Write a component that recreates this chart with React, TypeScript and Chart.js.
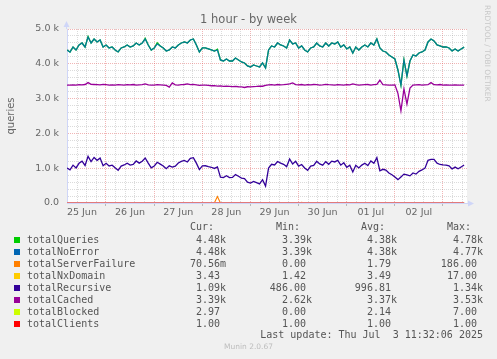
import React, { useEffect, useRef } from "react";
import { Chart, registerables } from "chart.js";
Chart.register(...registerables);

// x axis: days after 25 Jun 00:00, one sample every 1.5 h
const START_DAY = 0.19;
const STEP_DAY = 0.0625;
const X_MIN = 0.19;
const X_MAX = 8.5;
const dayLabels = ["25 Jun", "26 Jun", "27 Jun", "28 Jun", "29 Jun", "30 Jun", "01 Jul", "02 Jul"];
const yMajorValues = [0, 1000, 2000, 3000, 4000, 5000];
const yTickLabels = ["0.0", "1.0 k", "2.0 k", "3.0 k", "4.0 k", "5.0 k"];

const totalQueries = [
  4397, 4340, 4483, 4397, 4541, 4598, 4483, 4780, 4598, 4713,
  4627, 4685, 4483, 4541, 4455, 4483, 4397, 4340, 4455, 4483,
  4541, 4483, 4512, 4598, 4541, 4598, 4730, 4541, 4397, 4455,
  4600, 4512, 4455, 4368, 4397, 4483, 4455, 4541, 4598, 4627,
  4598, 4685, 4713, 4541, 4340, 4455, 4455, 4426, 4397, 4368,
  4420, 4110, 4081, 4139, 4081, 4081, 4167, 4110, 4052, 4024,
  3937, 3909, 3966, 3937, 3909, 4024, 3880, 4397, 4512, 4483,
  4598, 4541, 4512, 4455, 4685, 4570, 4598, 4455, 4512, 4397,
  4340, 4455, 4483, 4598, 4512, 4483, 4598, 4512, 4598, 4570,
  4627, 4483, 4541, 4426, 4483, 4311, 4483, 4397, 4483, 4541,
  4483, 4598, 4541, 4713, 4455, 4368, 4340, 4254, 4196, 4139,
  3822, 3390, 4110, 3650, 4080, 4254, 4225, 4311, 4340, 4397,
  4627, 4713, 4656, 4541, 4512, 4483, 4483, 4455, 4368, 4426,
  4368, 4426, 4480,
];
const totalNoError = [
  4397, 4340, 4483, 4397, 4541, 4598, 4483, 4770, 4598, 4713,
  4627, 4685, 4483, 4541, 4455, 4483, 4397, 4340, 4455, 4483,
  4541, 4483, 4512, 4598, 4541, 4598, 4713, 4541, 4397, 4455,
  4570, 4512, 4455, 4368, 4397, 4483, 4455, 4541, 4598, 4627,
  4598, 4685, 4713, 4541, 4340, 4455, 4455, 4426, 4397, 4368,
  4397, 4110, 4081, 4139, 4081, 4081, 4167, 4110, 4052, 4024,
  3937, 3909, 3966, 3937, 3909, 4024, 3880, 4397, 4512, 4483,
  4598, 4541, 4512, 4455, 4685, 4570, 4598, 4455, 4512, 4397,
  4340, 4455, 4483, 4598, 4512, 4483, 4598, 4512, 4598, 4570,
  4627, 4483, 4541, 4426, 4483, 4311, 4483, 4397, 4483, 4541,
  4483, 4598, 4541, 4713, 4455, 4368, 4340, 4254, 4196, 4139,
  3822, 3390, 4110, 3650, 4080, 4254, 4225, 4311, 4340, 4397,
  4627, 4713, 4656, 4541, 4512, 4483, 4483, 4455, 4368, 4426,
  4368, 4426, 4480,
];
const totalServerFailure = [
  0, 0, 1, 0, 0, 2, 0, 0, 0, 1,
  0, 0, 0, 3, 0, 0, 1, 0, 0, 0,
  2, 0, 0, 0, 1, 0, 0, 0, 4, 0,
  0, 1, 0, 0, 0, 2, 0, 0, 0, 1,
  0, 0, 3, 0, 0, 1, 0, 0, 0, 5,
  186, 0, 0, 2, 0, 0, 1, 0, 0, 0,
  1, 0, 0, 2, 0, 0, 0, 1, 0, 0,
  3, 0, 0, 1, 0, 0, 2, 0, 20, 0,
  0, 1, 0, 0, 2, 0, 0, 1, 0, 0,
  0, 3, 0, 0, 1, 0, 0, 0, 2, 0,
  1, 0, 0, 0, 2, 0, 1, 0, 0, 3,
  0, 2, 0, 1, 0, 0, 1, 0, 0, 2,
  0, 0, 1, 0, 0, 3, 0, 0, 1, 0,
  0, 0, 0.07,
];
const totalNxDomain = [
  3.6, 3.4, 3.8, 3.2, 3.5, 3.9, 3.3, 3.6, 3.4, 3.7,
  3.5, 3.2, 3.8, 3.6, 3.3, 3.4, 3.7, 3.5, 3.1, 3.6,
  3.4, 3.8, 3.5, 3.3, 3.6, 3.9, 3.4, 3.2, 3.5, 3.7,
  3.6, 3.3, 3.4, 3.8, 3.5, 3.6, 3.2, 3.4, 3.7, 3.5,
  3.3, 3.6, 3.8, 3.4, 3.1, 3.5, 3.6, 3.3, 3.4, 3.2,
  3.0, 2.8, 3.1, 2.9, 3.2, 2.7, 3.0, 2.9, 2.8, 3.1,
  2.7, 2.9, 3.0, 2.8, 2.6, 3.0, 2.9, 3.5, 3.7, 3.4,
  3.6, 3.8, 3.3, 3.5, 3.9, 3.6, 3.4, 3.7, 3.5, 3.3,
  3.2, 3.6, 3.4, 3.8, 3.5, 3.7, 3.6, 3.3, 3.9, 3.5,
  3.7, 3.4, 3.6, 3.3, 3.5, 3.1, 3.6, 3.4, 3.5, 3.8,
  3.4, 3.7, 3.5, 3.9, 17.0, 3.6, 3.3, 3.2, 3.0, 2.9,
  2.6, 2.4, 2.8, 2.5, 2.7, 3.0, 3.1, 3.3, 3.2, 3.4,
  3.7, 3.8, 3.6, 3.5, 3.4, 3.6, 3.5, 3.3, 3.4, 3.2,
  3.5, 3.4, 3.43,
];
const totalRecursive = [
  1007, 955, 1088, 1007, 1141, 1203, 1078, 1340, 1188, 1308,
  1227, 1290, 1073, 1141, 1065, 1088, 1012, 940, 1060, 1093,
  1141, 1088, 1107, 1208, 1146, 1198, 1293, 1146, 1012, 1065,
  1170, 1117, 1065, 988, 1067, 1033, 1060, 1151, 1198, 1222,
  1178, 1285, 1303, 1146, 960, 1065, 1070, 1046, 1027, 993,
  1037, 745, 731, 784, 731, 736, 817, 770, 717, 704,
  597, 574, 621, 587, 549, 669, 486, 1002, 1112, 1093,
  1193, 1146, 1112, 1045, 1265, 1120, 1198, 1060, 1107, 1007,
  940, 1060, 1078, 1198, 1122, 1088, 1188, 1112, 1203, 1180,
  1227, 1088, 1156, 1026, 1088, 891, 1083, 1007, 1088, 1141,
  1078, 1208, 1141, 1303, 925, 968, 945, 864, 811, 744,
  672, 750, 830, 810, 780, 864, 830, 911, 950, 1002,
  1227, 1253, 1256, 1146, 1107, 1093, 1088, 1070, 978, 1031,
  983, 1036, 1090,
];
const totalCached = [
  3390, 3385, 3395, 3390, 3400, 3395, 3405, 3460, 3410, 3405,
  3400, 3395, 3410, 3400, 3390, 3395, 3385, 3400, 3395, 3390,
  3400, 3395, 3405, 3390, 3395, 3400, 3420, 3395, 3385, 3390,
  3400, 3395, 3390, 3380, 3330, 3450, 3395, 3390, 3400, 3405,
  3420, 3400, 3410, 3395, 3380, 3390, 3385, 3380, 3370, 3375,
  3360, 3365, 3350, 3355, 3350, 3345, 3350, 3340, 3335, 3320,
  3340, 3335, 3345, 3350, 3360, 3355, 3380, 3395, 3400, 3390,
  3405, 3395, 3400, 3410, 3420, 3450, 3400, 3395, 3405, 3390,
  3400, 3395, 3405, 3400, 3390, 3395, 3410, 3400, 3395, 3390,
  3400, 3395, 3385, 3400, 3395, 3420, 3400, 3390, 3395, 3400,
  3405, 3390, 3400, 3410, 3530, 3400, 3395, 3390, 3385, 3395,
  3150, 2650, 3280, 2840, 3300, 3390, 3395, 3400, 3390, 3395,
  3400, 3460, 3400, 3395, 3405, 3390, 3395, 3385, 3390, 3395,
  3385, 3390, 3390,
];
const totalBlocked = [
  2.1, 2.3, 1.9, 2.4, 2.2, 2.0, 2.5, 2.3, 1.8, 2.2,
  2.4, 2.1, 2.0, 2.3, 2.6, 2.2, 1.9, 2.1, 2.4, 2.2,
  2.0, 2.3, 2.5, 2.1, 1.8, 2.2, 2.4, 2.0, 2.3, 2.1,
  2.2, 2.6, 2.0, 1.9, 2.3, 2.1, 2.4, 2.2, 2.0, 2.5,
  2.3, 2.1, 2.2, 1.9, 2.0, 2.4, 2.1, 2.3, 2.0, 1.8,
  1.7, 1.9, 1.6, 2.0, 1.8, 1.5, 1.7, 1.9, 1.6, 1.4,
  1.5, 1.3, 1.6, 1.4, 1.2, 1.5, 1.3, 2.2, 2.4, 2.1,
  2.3, 2.5, 2.0, 2.2, 7.0, 2.1, 2.3, 2.4, 2.0, 2.2,
  1.9, 2.1, 2.3, 2.5, 2.2, 2.0, 2.4, 2.1, 2.3, 2.2,
  2.5, 2.1, 2.0, 2.3, 2.2, 1.8, 2.1, 2.4, 2.2, 2.3,
  2.0, 2.4, 2.2, 2.6, 2.1, 2.0, 1.9, 2.2, 1.8, 1.7,
  1.5, 0.0, 1.6, 1.2, 1.8, 2.0, 1.9, 2.1, 2.2, 2.0,
  2.4, 2.5, 2.3, 2.1, 2.2, 2.4, 2.0, 2.3, 1.9, 2.1,
  2.2, 2.4, 2.97,
];
const totalClients = [
  1, 1, 1, 1, 1, 1, 1, 1, 1, 1,
  1, 1, 1, 1, 1, 1, 1, 1, 1, 1,
  1, 1, 1, 1, 1, 1, 1, 1, 1, 1,
  1, 1, 1, 1, 1, 1, 1, 1, 1, 1,
  1, 1, 1, 1, 1, 1, 1, 1, 1, 1,
  1, 1, 1, 1, 1, 1, 1, 1, 1, 1,
  1, 1, 1, 1, 1, 1, 1, 1, 1, 1,
  1, 1, 1, 1, 1, 1, 1, 1, 1, 1,
  1, 1, 1, 1, 1, 1, 1, 1, 1, 1,
  1, 1, 1, 1, 1, 1, 1, 1, 1, 1,
  1, 1, 1, 1, 1, 1, 1, 1, 1, 1,
  1, 1, 1, 1, 1, 1, 1, 1, 1, 1,
  1, 1, 1, 1, 1, 1, 1, 1, 1, 1,
  1, 1, 1,
];

const seriesNames = ["totalQueries", "totalNoError", "totalServerFailure", "totalNxDomain", "totalRecursive", "totalCached", "totalBlocked", "totalClients"];
const seriesColors = ["#00CC00", "#0066B3", "#FF8000", "#FFCC00", "#330099", "#990099", "#CCFF00", "#FF0000"];
const curValues = ["4.48k", "4.48k", "70.56m", "3.43", "1.09k", "3.39k", "2.97", "1.00"];
const minValues = ["3.39k", "3.39k", "0.00", "1.42", "486.00", "2.62k", "0.00", "1.00"];
const avgValues = ["4.38k", "4.38k", "1.79", "3.49", "996.81", "3.37k", "2.14", "1.00"];
const maxValues = ["4.78k", "4.77k", "186.00", "17.00", "1.34k", "3.53k", "7.00", "1.00"];

const FONT_COLOR = "#666666";
const AXIS_COLOR = "#CFD6F8";
const MINOR_GRID = "rgba(143,143,143,0.32)";
const MAJOR_GRID = "rgba(222,79,79,0.42)";

const near = (a: number, b: number) => Math.abs(a - b) < 1e-6;
const isMidnight = (v: number) => near(v, Math.round(v));
const isNoon = (v: number) => near(v - Math.floor(v), 0.5);

function buildXTicks(): number[] {
  const out: number[] = [];
  for (let i = 1; i * 0.2 <= X_MAX + 1e-9; i++) {
    const v = Math.round(i * 2) / 10;
    if (v > X_MIN && v < X_MAX) out.push(v);
  }
  for (let k = 0; k < dayLabels.length; k++) out.push(k + 0.5);
  return out.sort((a, b) => a - b);
}
function buildYTicks(): number[] {
  const out: number[] = [];
  for (let v = 0; v <= 5000; v += 200) out.push(v);
  return out;
}

const decor = {
  id: "decor",
  beforeDraw(chart: any) {
    const { ctx, chartArea: a } = chart;
    ctx.save();
    ctx.fillStyle = "#ffffff";
    ctx.fillRect(a.left, a.top, a.right - a.left, a.bottom - a.top);
    ctx.restore();
  },
  afterDraw(chart: any) {
    const { ctx, chartArea: a } = chart;
    ctx.save();
    ctx.fillStyle = AXIS_COLOR;
    ctx.strokeStyle = AXIS_COLOR;
    ctx.lineWidth = 1;
    const lx = Math.round(a.left) - 0.5;
    ctx.beginPath();
    ctx.moveTo(lx, a.top - 3);
    ctx.lineTo(lx, a.top);
    ctx.stroke();
    ctx.beginPath();
    ctx.moveTo(lx - 3, a.top - 2);
    ctx.lineTo(lx + 3, a.top - 2);
    ctx.lineTo(lx, a.top - 8);
    ctx.closePath();
    ctx.fill();
    const by = Math.round(a.bottom) + 0.5;
    ctx.beginPath();
    ctx.moveTo(a.right + 1, by - 3);
    ctx.lineTo(a.right + 1, by + 3);
    ctx.lineTo(a.right + 7, by);
    ctx.closePath();
    ctx.fill();
    ctx.restore();
  },
};

export default function App() {
  const ref = useRef<HTMLCanvasElement>(null);

  useEffect(() => {
    if (!ref.current) return;
    const times = totalQueries.map((_, i) => START_DAY + i * STEP_DAY);
    const pts = (arr: number[]) => arr.map((v, i) => ({ x: times[i], y: v }));
    const allSeries = [totalQueries, totalNoError, totalServerFailure, totalNxDomain, totalRecursive, totalCached, totalBlocked, totalClients];
    const widths = [1.3, 1.3, 1.1, 1, 1.3, 1.3, 1, 2];
    const strokeColors = ["#00CC00", "rgba(0,102,179,0.82)", "#FF8000", "#FFCC00", "#330099", "#990099", "#CCFF00", "#e27a7a"];
    const xTicks = buildXTicks();
    const yTicks = buildYTicks();

    // rrdtool draws in definition order (later on top); Chart.js puts index 0 on top,
    // so the datasets are handed over in reverse.
    const datasets = allSeries
      .map((arr, k) => ({
        label: seriesNames[k],
        data: pts(arr),
        borderColor: strokeColors[k],
        backgroundColor: seriesColors[k],
        borderWidth: widths[k],
        pointRadius: 0,
        tension: 0,
        fill: false,
      }))
      .reverse();

    const chart = new Chart(ref.current, {
      type: "line",
      data: { datasets },
      options: {
        responsive: false,
        devicePixelRatio: 1,
        animation: false,
        events: [],
        layout: { padding: { left: 0, top: 29, right: 30, bottom: 0 } },
        plugins: { legend: { display: false }, tooltip: { enabled: false }, title: { display: false } },
        scales: {
          x: {
            type: "linear",
            min: X_MIN,
            max: X_MAX,
            afterBuildTicks: (s: any) => {
              s.ticks = xTicks.map((v) => ({ value: v }));
            },
            afterFit: (s: any) => {
              s.height = 156;
            },
            ticks: {
              autoSkip: false,
              maxRotation: 0,
              minRotation: 0,
              padding: 1,
              color: FONT_COLOR,
              font: { family: "DejaVu Sans", size: 9.5 },
              callback: (v: any) => {
                const n = Number(v);
                if (isNoon(n)) return dayLabels[Math.floor(n)] ?? "";
                return "";
              },
            },
            grid: {
              color: (c: any) => {
                const v = c.tick ? c.tick.value : NaN;
                if (isNaN(v) || isNoon(v)) return "rgba(0,0,0,0)";
                return isMidnight(v) ? MAJOR_GRID : MINOR_GRID;
              },
              tickColor: (c: any) => {
                const v = c.tick ? c.tick.value : NaN;
                return !isNaN(v) && isMidnight(v) ? "#b8b8b8" : "rgba(0,0,0,0)";
              },
              tickLength: 3,
              lineWidth: 1,
            },
            border: { color: AXIS_COLOR, dash: [1, 1] },
          },
          y: {
            type: "linear",
            min: 0,
            max: 5000,
            afterBuildTicks: (s: any) => {
              s.ticks = yTicks.map((v) => ({ value: v }));
            },
            afterFit: (s: any) => {
              s.width = 67;
            },
            ticks: {
              autoSkip: false,
              padding: 8,
              color: FONT_COLOR,
              font: { family: "DejaVu Sans", size: 9.5 },
              callback: (v: any) => {
                const idx = yMajorValues.indexOf(Number(v));
                return idx >= 0 ? yTickLabels[idx] : "";
              },
            },
            grid: {
              drawTicks: false,
              color: (c: any) => {
                const v = c.tick ? c.tick.value : NaN;
                if (isNaN(v)) return MINOR_GRID;
                return v % 1000 === 0 ? MAJOR_GRID : MINOR_GRID;
              },
              lineWidth: 1,
            },
            border: { color: AXIS_COLOR, dash: [1, 1] },
            title: {
              display: true,
              text: "queries",
              color: FONT_COLOR,
              font: { family: "DejaVu Sans", size: 10 },
              padding: { top: 5, bottom: 0 },
            },
          },
        },
      },
      plugins: [decor],
    } as any);
    return () => chart.destroy();
  }, []);

  const mono: React.CSSProperties = {
    position: "absolute",
    font: '10px "DejaVu Sans Mono"',
    lineHeight: "12px",
    whiteSpace: "pre",
    color: "#555555",
  };
  const withUnit = (s: string) => (/[a-z]$/i.test(s) ? s : s + " ");
  const colRights = [226, 312, 397, 483];
  const headers = ["Cur:", "Min:", "Avg:", "Max:"];
  const cols = [curValues, minValues, avgValues, maxValues];

  return (
    <div style={{ position: "fixed", left: 0, top: 0, width: 497, height: 359, background: "#f0f0f0", overflow: "hidden" }}>
      <canvas ref={ref} width={497} height={359} style={{ position: "absolute", left: 0, top: 0, width: 497, height: 359 }} />
      <div
        style={{
          position: "absolute",
          left: 0,
          top: 11,
          width: 497,
          textAlign: "center",
          font: '11.5px "DejaVu Sans"',
          lineHeight: "16px",
          color: FONT_COLOR,
        }}
      >
        1 hour - by week
      </div>
      <div
        style={{
          position: "absolute",
          left: 483,
          top: 5,
          writingMode: "vertical-rl",
          font: '7.5px "DejaVu Sans"',
          lineHeight: "8px",
          color: "#c8c8c8",
          whiteSpace: "nowrap",
        }}
      >
        RRDTOOL / TOBI OETIKER
      </div>
      {headers.map((h, j) => (
        <div key={h} style={{ ...mono, right: 497 - colRights[j], top: 221, textAlign: "right" }}>
          {h + "  "}
        </div>
      ))}
      {seriesNames.map((name, k) => {
        const c = 240 + 12 * k;
        return (
          <React.Fragment key={name}>
            <div style={{ position: "absolute", left: 14, top: c - 3, width: 6, height: 6, background: seriesColors[k] }} />
            <div style={{ ...mono, left: 27, top: c - 6 }}>{name}</div>
            {cols.map((col, j) => (
              <div key={j} style={{ ...mono, right: 497 - colRights[j], top: c - 6, textAlign: "right" }}>
                {withUnit(col[k])}
              </div>
            ))}
          </React.Fragment>
        );
      })}
      <div style={{ ...mono, right: 497 - 483, top: 329, textAlign: "right" }}>Last update: Thu Jul  3 11:32:06 2025</div>
      <div
        style={{
          position: "absolute",
          left: 0,
          width: 497,
          top: 342,
          textAlign: "center",
          font: '7.5px "DejaVu Sans"',
          lineHeight: "10px",
          color: "#bdbdbd",
        }}
      >
        Munin 2.0.67
      </div>
    </div>
  );
}
